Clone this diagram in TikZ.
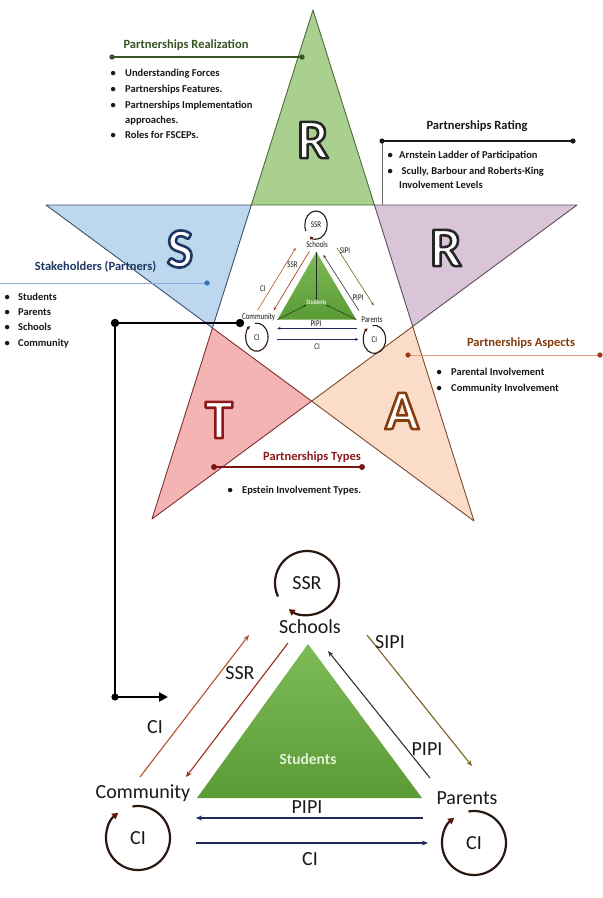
\documentclass[tikz,border=0pt]{standalone}
\usepackage{fontspec}
\setmainfont{Carlito}
\usetikzlibrary{arrows.meta,calc}
\definecolor{sGreen}{HTML}{A9D08E}
\definecolor{sBlue}{HTML}{BDD7EE}
\definecolor{sPurple}{HTML}{D9C4D8}
\definecolor{sPink}{HTML}{F5B4B4}
\definecolor{sPeach}{HTML}{FBDCC8}
\definecolor{eGreen}{HTML}{4F6B3A}
\definecolor{eBlue}{HTML}{3F4F6B}
\definecolor{ePurple}{HTML}{5E4E5E}
\definecolor{eRed}{HTML}{7E3030}
\definecolor{eBrown}{HTML}{7E4A2E}
\definecolor{tGreen}{HTML}{375623}
\definecolor{tBlue}{HTML}{1F3864}
\definecolor{tBrown}{HTML}{843C0C}
\definecolor{tRed}{HTML}{8B1A1A}
\definecolor{lBlue}{HTML}{8FAADC}
\definecolor{dBlue}{HTML}{2E75B6}
\definecolor{lOrange}{HTML}{E59D72}
\definecolor{dOrange}{HTML}{9C3A10}
\definecolor{cCI}{HTML}{B5532A}
\definecolor{cSSR}{HTML}{9A2E14}
\definecolor{cPIPI}{HTML}{333333}
\definecolor{cSIPI}{HTML}{7A6320}
\definecolor{cNavy}{HTML}{1F2A5C}
\definecolor{cLoop}{HTML}{2A1810}
\definecolor{cLoopTip}{HTML}{5A140A}
\definecolor{gTop}{HTML}{7DBB57}
\definecolor{gBot}{HTML}{5B9B35}
\definecolor{stuText}{HTML}{E4F2DA}
\newcommand\bul[5]{\node[bt,anchor=base west] (#1) at (#2,#3) {\makebox[#4][l]{\textbullet}#5};}
% outlined letter: white fill, stroked outline (PDF text render mode 2)
\newcommand\outlet[4]{%
  \node[bigletter,text=white] (#1) at (#2) {\special{pdf:literal direct #3 RG 2.6 w 1 j 2 Tr}#4\special{pdf:literal direct 0 Tr}};}
\def\cw{2.2pt}\def\aw{1.1pt}
\begin{document}
\begin{tikzpicture}[x=1pt,y=1pt,
  ttl/.style={font=\fontsize{12.5}{14}\selectfont\bfseries,inner sep=0pt},
  bt/.style={font=\fontsize{10.5}{12}\selectfont\bfseries,inner sep=0pt,text=black!90},
  bigletter/.style={font=\fontsize{56}{56}\selectfont\bfseries,inner sep=0pt},
  dtext/.style={font=\fontsize{20}{22}\selectfont,inner sep=1pt,text=black!90},
  stext/.style={font=\fontsize{15.5}{17}\selectfont\bfseries,inner sep=0pt,text=stuText},
  arrline/.style={line width=\aw,-{Stealth[length=0pt 5.5,width=0pt 4.5]}},
  loopline/.style={draw=cLoop,line width=\cw,-{Triangle[length=0pt 2.8,width=0pt 3,color=cLoopTip]}},
  pics/triad/.style={code={
    \node[dtext] (-ssr) at (0,0) {SSR};
    \draw[loopline] (205:32) arc[start angle=205,end angle=-125,radius=32];
    \node[dtext] (-sch) at (3,-44) {Schools};
    \coordinate (-tA) at (1,-61);
    \coordinate (-tL) at (-110,-215);
    \coordinate (-tR) at (115,-215);
    \shade[top color=gTop,bottom color=gBot] (-tA) -- (-tL) -- (-tR) -- cycle;
    \node[stext] (-stu) at (1,-176) {Students};
    \node[dtext] (-com) at (-164,-210) {Community};
    \node[dtext] (-par) at (160,-215) {Parents};
    \node[dtext] (-cil) at (-169,-255) {CI};
    \draw[loopline] ([shift={(-169,-255)}]100:32) arc[start angle=100,end angle=-232,radius=32];
    \node[dtext] (-cir) at (167,-260) {CI};
    \draw[loopline] ([shift={(167,-260)}]100:32) arc[start angle=100,end angle=-232,radius=32];
    \coordinate (-a1s) at (-167,-194); \coordinate (-a1e) at (-58,-52);
    \draw[arrline,draw=cCI] (-a1s) -- (-a1e);
    \node[dtext] (-l1) at (-152,-144) {CI};
    \coordinate (-a2s) at (-19,-60); \coordinate (-a2e) at (-121,-194);
    \draw[arrline,draw=cSSR] (-a2s) -- (-a2e);
    \node[dtext] (-l2) at (-67,-90) {SSR};
    \coordinate (-a3s) at (123,-195); \coordinate (-a3e) at (21,-68);
    \draw[arrline,draw=cPIPI] (-a3s) -- (-a3e);
    \node[dtext] (-l3) at (120,-166) {PIPI};
    \coordinate (-a4s) at (60,-52); \coordinate (-a4e) at (165,-183);
    \draw[arrline,draw=cSIPI] (-a4s) -- (-a4e);
    \node[dtext] (-l4) at (83,-59) {SIPI};
    \coordinate (-a5s) at (116,-235); \coordinate (-a5e) at (-111,-235);
    \draw[arrline,draw=cNavy] (-a5s) -- (-a5e);
    \node[dtext] (-l5) at (0,-224) {PIPI};
    \coordinate (-a6s) at (-111,-260); \coordinate (-a6e) at (121,-260);
    \draw[arrline,draw=cNavy] (-a6s) -- (-a6e);
    \node[dtext] (-l6) at (3,-276) {CI};
  }}
]
\useasboundingbox (0,0) rectangle (603,-898);
\fill[white] (0,0) rectangle (603,-898);

% ---------- star ----------
\coordinate (A0) at (313,-10);
\coordinate (Lt) at (46,-205);
\coordinate (Rt) at (577,-205);
\coordinate (BL) at (152,-519);
\coordinate (BR) at (474,-521);
\coordinate (P1) at (intersection of A0--BL and Lt--Rt);
\coordinate (P2) at (intersection of A0--BR and Lt--Rt);
\coordinate (P3) at (intersection of A0--BR and Rt--BL);
\coordinate (P4) at (intersection of Lt--BR and Rt--BL);
\coordinate (P5) at (intersection of A0--BL and Lt--BR);

\fill[sGreen] (A0) -- (P1) -- (P2) -- cycle;
\fill[sBlue] (Lt) -- (P1) -- (P5) -- cycle;
\fill[sPurple] (Rt) -- (P2) -- (P3) -- cycle;
\fill[sPink] (BL) -- (P5) -- (P4) -- cycle;
\fill[sPeach] (BR) -- (P3) -- (P4) -- cycle;
\draw[eGreen,line width=0.9pt,line join=round] (A0) -- (P1) -- (P2) -- cycle;
\draw[eBlue,line width=0.9pt,line join=round] (Lt) -- (P1) -- (P5) -- cycle;
\draw[ePurple,line width=0.9pt,line join=round] (Rt) -- (P2) -- (P3) -- cycle;
\draw[eRed,line width=0.9pt,line join=round] (BL) -- (P5) -- (P4) -- cycle;
\draw[eBrown,line width=0.9pt,line join=round] (BR) -- (P3) -- (P4) -- cycle;

\outlet{LR1}{313,-140}{0.15 0.15 0.15}{R}
\outlet{LS}{180,-249}{0.12 0.22 0.39}{S}
\outlet{LR2}{446,-248}{0.15 0.15 0.15}{R}
\outlet{LT}{219,-420}{0.55 0.1 0.1}{T}
\outlet{LA}{402,-411}{0.52 0.24 0.05}{A}

% ---------- Partnerships Realization ----------
\node[ttl,text=tGreen] (trz) at (186,-45) {Partnerships Realization};
\coordinate (rz1) at (112,-57); \coordinate (rz2) at (302,-57);
\draw[tGreen,line width=1.8pt] (rz1) -- (rz2);
\fill[tGreen] (rz1) circle (2.7) (rz2) circle (2.7);
\bul{rz-a}{110.4}{-76.8}{14.6pt}{Understanding Forces}
\bul{rz-b}{110.4}{-92.8}{14.6pt}{Partnerships Features.}
\bul{rz-c}{110.4}{-108.3}{14.6pt}{Partnerships Implementation}
\node[bt,anchor=base west] (rz-d) at (125,-123.3) {approaches.};
\bul{rz-e}{110.4}{-138.6}{14.6pt}{Roles for FSCEPs.}

% ---------- Partnerships Rating ----------
\node[ttl,text=black!90] (trt) at (477,-126) {Partnerships Rating};
\coordinate (rt1) at (382,-141); \coordinate (rt2) at (573,-141); \coordinate (rt3) at (382,-205);
\draw[black!60,line width=0.6pt] (rt1) -- (rt3);
\draw[black!90,line width=1.3pt] (rt1) -- (rt2);
\fill[black!90] (rt1) circle (2.6) (rt2) circle (2.6);
\bul{rt-a}{387.4}{-158.5}{11.6pt}{Arnstein Ladder of Participation}
\bul{rt-b}{387.4}{-174.5}{11.6pt}{\hspace{2.5pt}Scully, Barbour and Roberts-King}
\node[bt,anchor=base west] (rt-c) at (399,-188.5) {Involvement Levels};

% ---------- Stakeholders ----------
\node[ttl,text=tBlue] (tsk) at (95.5,-267) {Stakeholders (Partners)};
\coordinate (sk1) at (0,-283); \coordinate (sk2) at (207,-283);
\draw[lBlue,line width=1pt] (sk1) -- (sk2);
\fill[dBlue] (sk2) circle (2.6);
\bul{sk-a}{4.4}{-300.5}{13.6pt}{Students}
\bul{sk-b}{4.4}{-315.5}{13.6pt}{Parents}
\bul{sk-c}{4.4}{-330.5}{13.6pt}{Schools}
\bul{sk-d}{4.4}{-346.5}{13.6pt}{Community}

% ---------- Partnerships Aspects ----------
\node[ttl,text=tBrown] (tas) at (521,-343) {Partnerships Aspects};
\coordinate (as1) at (408,-355); \coordinate (as2) at (600,-355);
\draw[lOrange,line width=1pt] (as1) -- (as2);
\fill[dOrange] (as1) circle (2.6) (as2) circle (2.6);
\bul{as-a}{436.4}{-375.5}{14.6pt}{Parental Involvement}
\bul{as-b}{436.4}{-391.5}{14.6pt}{Community Involvement}

% ---------- Partnerships Types ----------
\node[ttl,text=tRed] (tty) at (312,-457) {Partnerships Types};
\coordinate (ty1) at (214,-467); \coordinate (ty2) at (362,-467);
\draw[tRed!85!black,line width=1.8pt] (ty1) -- (ty2);
\fill[tRed!85!black] (ty1) circle (3) (ty2) circle (3);
\bul{ty-a}{227.4}{-493.5}{14.6pt}{Epstein Involvement Types.}

% ---------- small triad inside pentagon ----------
\def\cw{1.1pt}\def\aw{0.6pt}
\begin{scope}[shift={(316,-225)},xscale=0.35,yscale=0.44,transform shape]
  \pic (small) at (0,0) {triad};
\end{scope}
\draw[black!85,line width=0.5pt,-{Stealth[length=2.5pt,width=2pt]}] (small-tA) -- (small-stu.north);
\draw[black!85,line width=0.5pt,-{Stealth[length=2.5pt,width=2pt]}] (small-tL) -- (small-stu.south west);
\draw[black!85,line width=0.5pt,-{Stealth[length=2.5pt,width=2pt]}] (small-tR) -- (small-stu.south east);

% ---------- big triad ----------
\def\cw{2.2pt}\def\aw{1.1pt}
\pic (big) at (307,-583) {triad};

% ---------- thick connector ----------
\coordinate (k1) at (240,-323);
\coordinate (k2) at (115,-323);
\coordinate (k3) at (115,-697);
\coordinate (k4) at (168,-697);
\draw[black,line width=2.6pt,line join=miter,-{Triangle[length=9pt,width=9pt]}] (k1) -- (k2) -- (k3) -- (k4);
\fill[black] (k1) circle (4.2) (k2) circle (4.2) (k3) circle (3.6);
\end{tikzpicture}
\end{document}
